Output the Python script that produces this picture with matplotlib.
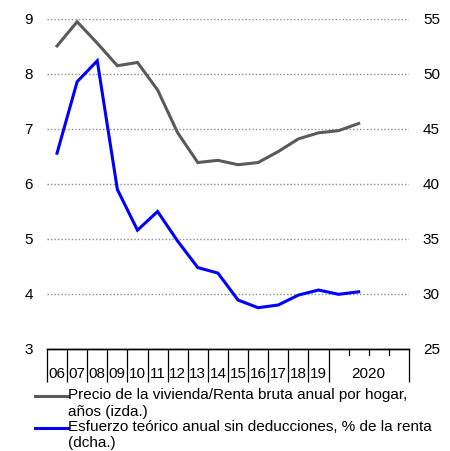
import matplotlib
matplotlib.use("Agg")
import matplotlib.pyplot as plt
from matplotlib.lines import Line2D

plt.rcParams.update({
    "font.family": ["Liberation Sans", "DejaVu Sans"],
    "font.size": 11,
})

# ── data ────────────────────────────────────────────────────────────────
year_labels = ["06", "07", "08", "09", "10", "11", "12", "13", "14",
               "15", "16", "17", "18", "19"]
period_label_2020 = "2020"
# 2006-2019 annual, then two 2020 observations
precio_renta = [8.51, 8.95, 8.56, 8.15, 8.21, 7.71, 6.93, 6.39, 6.43,
                6.35, 6.39, 6.59, 6.82, 6.93, 6.97, 7.10]
esfuerzo = [42.8, 49.3, 51.2, 39.5, 35.8, 37.5, 34.8, 32.4, 31.9,
            29.45, 28.75, 29.0, 29.9, 30.36, 29.97, 30.2]

GRAY = "#5a5a5a"
BLUE = "#0000ff"

fig = plt.figure(figsize=(4.5, 4.51), dpi=100)
ax = fig.add_axes([0.1044, 0.2262, 0.8044, 0.7317])
ax2 = ax.twinx()

x = [i + 0.5 for i in range(len(precio_renta))]
ax.plot(x, precio_renta, color=GRAY, lw=2.2, solid_joinstyle="miter", zorder=3)
ax2.plot(x, esfuerzo, color=BLUE, lw=2.2, solid_joinstyle="miter", zorder=3)

ax.set_xlim(0, 18)
ax.set_ylim(3, 9)
ax2.set_ylim(25, 55)
ax.set_yticks(range(3, 10))
ax2.set_yticks(range(25, 56, 5))

for a in (ax, ax2):
    for s in ("top", "left", "right"):
        a.spines[s].set_visible(False)
    a.spines["bottom"].set_linewidth(1.0)
    a.tick_params(axis="y", length=0, pad=10, labelsize=11)

ax.grid(axis="y", color="#8c8c8c", linestyle=(0, (1, 1.5)), lw=1.0)
ax.set_axisbelow(True)

# category boundary ticks (long for years, short within 2020)
ax.set_xticks(list(range(0, 15)) + [18])
ax.set_xticklabels([])
ax.tick_params(axis="x", which="major", direction="out", length=24,
               width=0.9, color="black")
minor_pos = [i + 0.5 for i in range(len(year_labels))] + [16]
ax.set_xticks(minor_pos, minor=True)
ax.set_xticklabels(year_labels + [period_label_2020], minor=True)
ax.tick_params(axis="x", which="minor", length=0, pad=13, labelsize=11)
for t in (15, 16, 17):
    ax.plot([t, t], [0, -0.018], transform=ax.get_xaxis_transform(),
            color="black", lw=0.9, clip_on=False)

# legend drawn by hand
fig.add_artist(Line2D([35 / 450, 68 / 450], [1 - 395.7 / 451] * 2,
                      color=GRAY, lw=2.2))
fig.add_artist(Line2D([35 / 450, 68 / 450], [1 - 427.7 / 451] * 2,
                      color=BLUE, lw=2.2))
legend_lines = [
    ("Precio de la vivienda/Renta bruta anual por hogar,", 399.5),
    ("años (izda.)", 416.3),
    ("Esfuerzo teórico anual sin deducciones, % de la renta", 431.2),
    ("(dcha.)", 446.7),
]
for txt, ypx in legend_lines:
    fig.text(68 / 450, 1 - ypx / 451, txt, ha="left", va="baseline",
             fontsize=11)

fig.savefig("out.png", dpi=100)
